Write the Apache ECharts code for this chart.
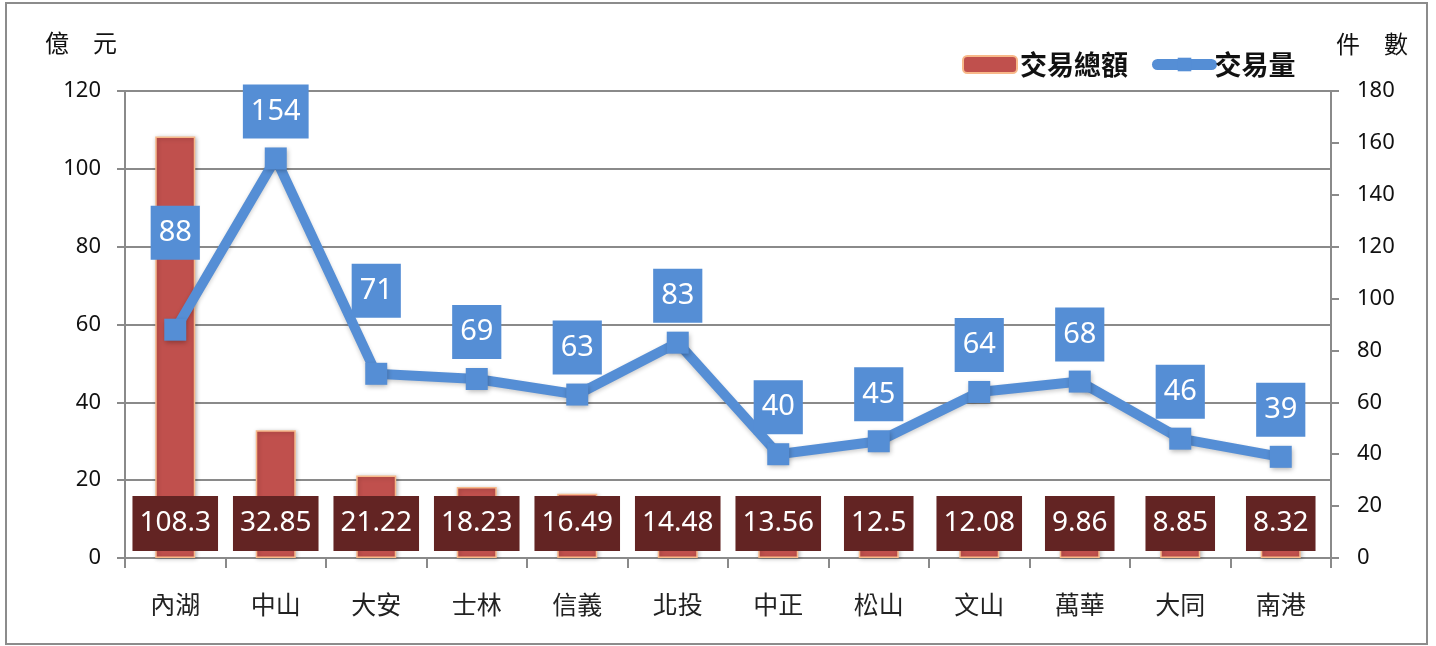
<!DOCTYPE html>
<html>
<head>
<meta charset="utf-8">
<script src="https://cdn.jsdelivr.net/npm/echarts@6/dist/echarts.min.js"></script>
<style>
html,body{margin:0;padding:0;background:#fff;}
#c{width:1436px;height:646px;}
</style>
</head>
<body>
<div id="c"></div>
<script>
// ---- data ----
const categories = ['內湖','中山','大安','士林','信義','北投','中正','松山','文山','萬華','大同','南港'];
const amountValues = [108.3, 32.85, 21.22, 18.23, 16.49, 14.48, 13.56, 12.5, 12.08, 9.86, 8.85, 8.32]; // 億元
const countValues = [88, 154, 71, 69, 63, 83, 40, 45, 64, 68, 46, 39]; // 件數
const leftTicks = [0, 20, 40, 60, 80, 100, 120];
const rightTicks = [0, 20, 40, 60, 80, 100, 120, 140, 160, 180];
const seriesNames = ['交易總額', '交易量'];
const axisNames = ['億　元', '件　數'];

// label nudges (style only)
const lineLabelShift = {0: -50, 2: -36};

const chart = echarts.init(document.getElementById('c'));
const numFont = '"Noto Sans", "Open Sans", sans-serif';
const cjkFont = '"Noto Sans CJK TC", "Noto Sans", sans-serif';
const axisGray = '#8a8a8a';

const lineData = countValues.map((v, i) => {
  const item = { value: v };
  if (lineLabelShift[i] !== undefined) item.label = { offset: [0, lineLabelShift[i]] };
  return item;
});

chart.setOption({
  animation: false,
  backgroundColor: '#fff',
  graphic: [
    { type: 'rect', shape: { x: 6, y: 3, width: 1421, height: 641 }, style: { fill: 'none', stroke: '#8c8c8c', lineWidth: 2 }, silent: true },
    { type: 'text', left: 45, top: 31, style: { text: axisNames[0], font: '24px ' + cjkFont, fill: '#111' } },
    { type: 'text', left: 1336, top: 32, style: { text: axisNames[1], font: '24px ' + cjkFont, fill: '#111' } }
  ],
  legend: {
    left: 957, top: 46,
    itemWidth: 54, itemHeight: 17, itemGap: 24,
    textStyle: { fontFamily: cjkFont, fontSize: 27, fontWeight: 'bold', color: '#111', padding: [0, 0, 0, -2] },
    data: [
      { name: seriesNames[0] },
      { name: seriesNames[1], lineStyle: { width: 11, cap: 'round' } }
    ]
  },
  grid: { left: 125, right: 105, top: 91, bottom: 88, containLabel: false },
  xAxis: {
    type: 'category',
    data: categories,
    boundaryGap: true,
    axisLine: { lineStyle: { color: axisGray, width: 2 } },
    axisTick: { show: true, length: 10, lineStyle: { color: axisGray, width: 2 } },
    axisLabel: { fontFamily: cjkFont, fontSize: 25, color: '#222', margin: 34 }
  },
  yAxis: [
    {
      type: 'value', min: leftTicks[0], max: leftTicks[leftTicks.length - 1], interval: 20,
      axisLine: { show: true, lineStyle: { color: axisGray, width: 2 } },
      axisTick: { show: true, length: 8, lineStyle: { color: axisGray, width: 2 } },
      splitLine: { show: true, lineStyle: { color: axisGray, width: 2 } },
      axisLabel: { fontFamily: numFont, fontSize: 22, color: '#111', margin: 24 }
    },
    {
      type: 'value', min: rightTicks[0], max: rightTicks[rightTicks.length - 1], interval: 20,
      position: 'right',
      axisLine: { show: true, lineStyle: { color: axisGray, width: 2 } },
      axisTick: { show: true, length: 8, lineStyle: { color: axisGray, width: 2 } },
      splitLine: { show: false },
      axisLabel: { fontFamily: numFont, fontSize: 22, color: '#111', margin: 26 }
    }
  ],
  series: [
    {
      name: seriesNames[0],
      type: 'bar',
      yAxisIndex: 0,
      data: amountValues,
      barWidth: 40,
      itemStyle: {
        color: '#C0504D', borderColor: '#F8B98A', borderWidth: 1.5,
        shadowColor: 'rgba(0,0,0,0.25)', shadowBlur: 4, shadowOffsetX: 1, shadowOffsetY: 1
      },
      label: {
        show: true, position: 'insideBottom', distance: 7,
        backgroundColor: '#632423', color: '#fff',
        fontFamily: numFont, fontSize: 28, lineHeight: 35,
        padding: [10, 7, 10, 7]
      },
      z: 2
    },
    {
      name: seriesNames[1],
      type: 'line',
      yAxisIndex: 1,
      data: lineData,
      symbol: 'rect', symbolSize: 22,
      lineStyle: { color: '#558ED5', width: 10, shadowColor: 'rgba(0,0,0,0.2)', shadowBlur: 4, shadowOffsetY: 2 },
      itemStyle: { color: '#558ED5', shadowColor: 'rgba(0,0,0,0.3)', shadowBlur: 5, shadowOffsetX: 1, shadowOffsetY: 2 },
      label: {
        show: true, position: 'top', distance: 9,
        backgroundColor: '#558ED5', color: '#fff',
        fontFamily: numFont, fontSize: 29, lineHeight: 36,
        padding: [9, 8, 9, 8]
      },
      z: 5
    }
  ]
});
</script>
</body>
</html>
